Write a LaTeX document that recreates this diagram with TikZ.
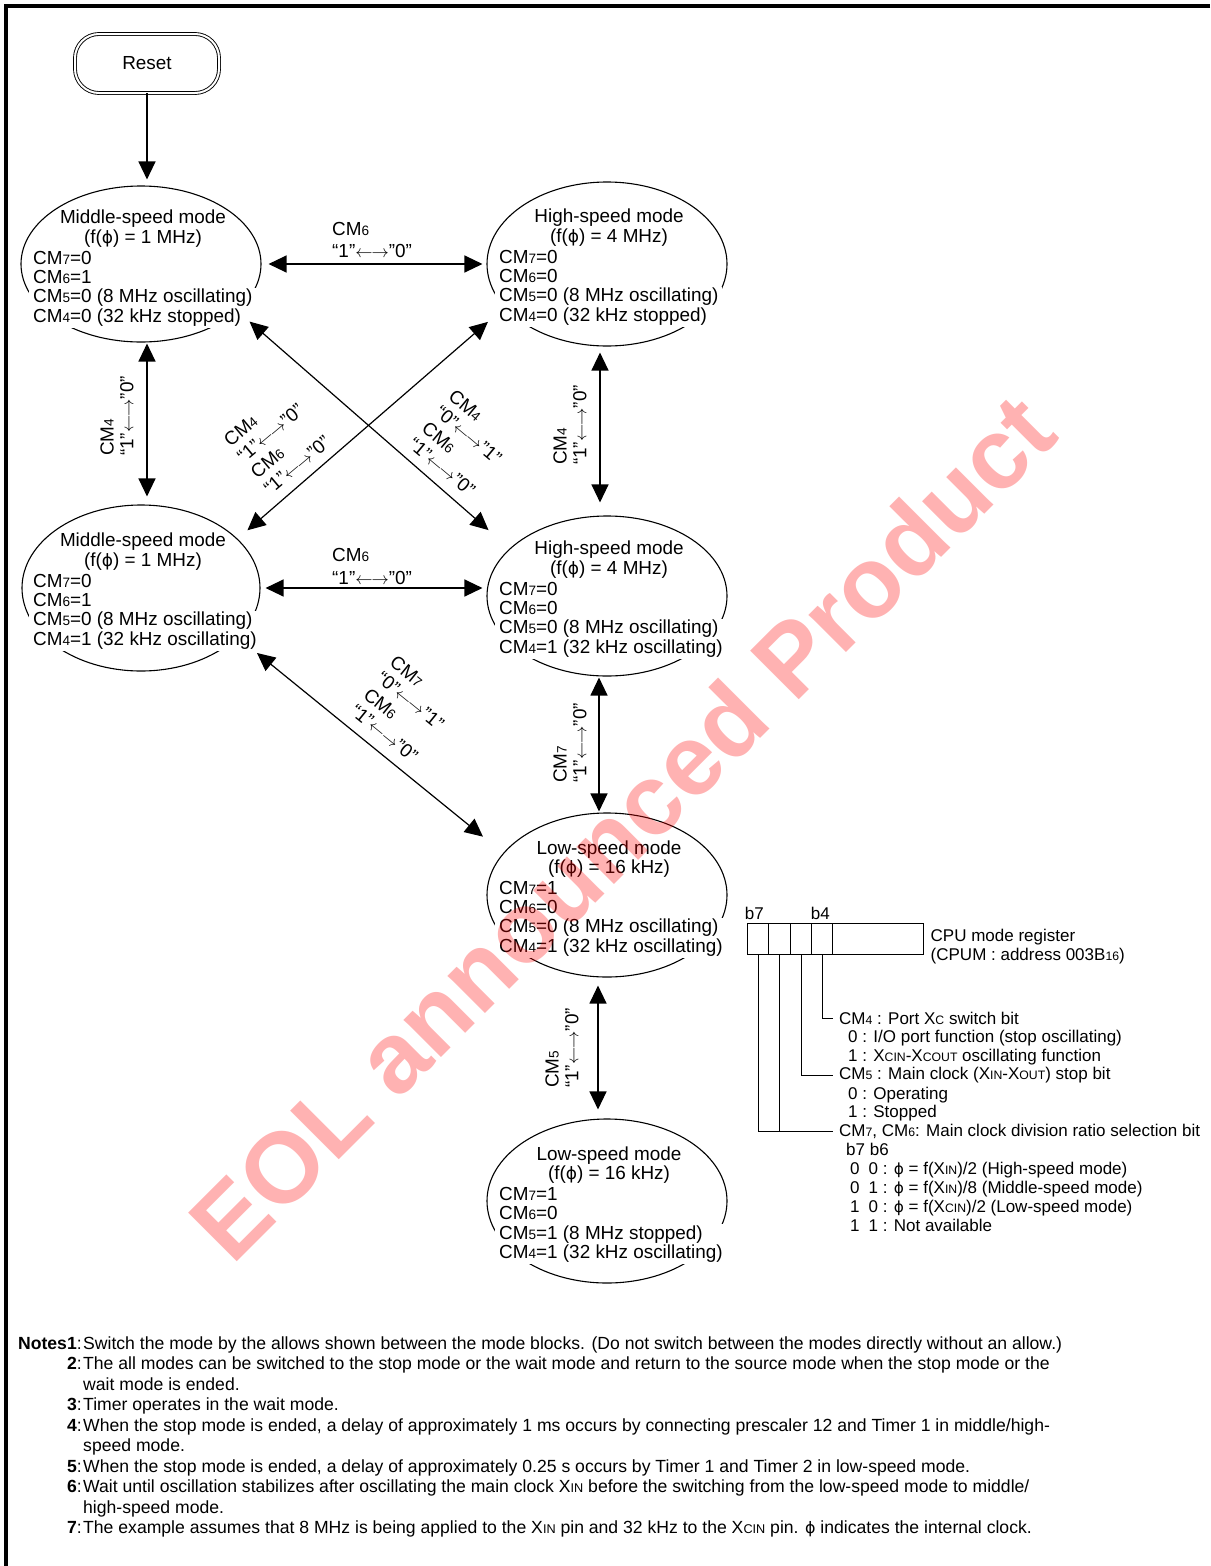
\documentclass[tikz,border=0pt]{standalone}
\usepackage{fontspec}
\setmainfont{Liberation Sans}
\newfontfamily\symfont{DejaVu Sans}
\usepackage{graphicx}
\usetikzlibrary{arrows.meta,positioning,shapes.geometric}
\definecolor{Wmark}{HTML}{FF0000}
\newcommand\lo[1]{\scalebox{0.72}{#1}}
\newcommand\fy{{\symfont\scalebox{0.9}{ϕ}}}
\newcommand\sw[2]{“#1”$\leftarrow\mkern-1mu\rightarrow$”#2”}
\newcommand\modefont{\fontsize{18.9}{19.8}\selectfont}
\newcommand\regfont{\fontsize{17}{18.8}\selectfont}
\newcommand\notefont{\fontsize{17.6}{20.5}\selectfont}

\begin{document}
\begin{tikzpicture}[x=1pt,y=-1pt,font=\modefont,
mode/.style={draw,ellipse,line width=1.1pt,minimum width=240pt,minimum height=164pt,inner sep=0pt},
modetxt/.style={inner sep=0pt,align=left},
lowtxt/.style={modetxt,fill=white,inner xsep=4pt,inner ysep=1.5pt},
swlbl/.style={inner sep=1pt,align=left},
dbl/.style={{Triangle[length=18pt,width=17pt]}-{Triangle[length=18pt,width=17pt]},line width=1.2pt},
cell/.style={draw,line width=1pt,minimum width=21.5pt,minimum height=31pt,inner sep=0pt},
regtxt/.style={font=\regfont,inner sep=0pt,align=left},
lead/.style={line width=1pt}]
\useasboundingbox (0,0) rectangle (1210,1566);
\draw[line width=4pt] (1210,5.5) -- (6,5.5) -- (6,1566);

% reset and the six mode blocks
\node[draw,double,double distance=2pt,line width=0.9pt,rounded corners=24pt,minimum width=144pt,minimum height=59pt] (rst) at (147,63.5) {Reset};
\node[mode,minimum width=240pt,minimum height=156pt] (e1) at (141,264) {};
\node[mode] (e2) at (607,264) {};
\node[mode,minimum width=238pt,minimum height=166pt] (e3) at (141,588) {};
\node[mode,minimum height=160pt] (e4) at (607,596) {};
\node[mode] (e5) at (607,895) {};
\node[mode] (e6) at (607,1201) {};
\foreach \nm/\kind/\fq/\va/\vb/\vc/\vd/\dy in {
  e1/Middle/1 MHz/0/1/{0 (8 MHz oscillating)}/{0 (32 kHz stopped)}/1,
  e2/High/4 MHz/0/0/{0 (8 MHz oscillating)}/{0 (32 kHz stopped)}/0,
  e3/Middle/1 MHz/0/1/{0 (8 MHz oscillating)}/{1 (32 kHz oscillating)}/0,
  e4/High/4 MHz/0/0/{0 (8 MHz oscillating)}/{1 (32 kHz oscillating)}/0,
  e5/Low/16 kHz/1/0/{0 (8 MHz oscillating)}/{1 (32 kHz oscillating)}/0,
  e6/Low/16 kHz/1/0/{1 (8 MHz stopped)}/{1 (32 kHz oscillating)}/0}{
  \node[modetxt,align=center] (\nm-t) at ([xshift=2pt,yshift=36pt-\dy pt]\nm.center) {\kind-speed mode\\(f(\fy) = \fq)};
  \node[modetxt,anchor=west] (\nm-u) at ([xshift=-108pt,yshift=-2.5pt-\dy pt]\nm.center) {CM\lo{7}=\va\\CM\lo{6}=\vb};
  \node[lowtxt,anchor=west] (\nm-l) at ([xshift=-112pt,yshift=-43pt-\dy pt]\nm.center) {CM\lo{5}=\vc\\CM\lo{4}=\vd};
}

% transitions
\draw[-{Triangle[length=18pt,width=17pt]},line width=1.2pt,shorten >=6pt] (rst) -- (rst |- e1.north);
\draw[dbl,shorten <=1pt,shorten >=8pt] (rst |- e1.south) -- (rst |- e3.north);
\draw[dbl,shorten <=7pt,shorten >=4pt] (e1.east) -- (e1.east -| e2.west);
\draw[dbl,shorten <=6pt,shorten >=13pt] ([xshift=-7pt]e2.south) -- ([xshift=-7pt]e4.north);
\draw[dbl,shorten <=5pt,shorten >=4pt] (e3.east) -- (e3.east -| e4.west);
\draw[dbl,shorten <=1pt,shorten >=1pt] ([xshift=-8pt]e4.south) -- ([xshift=-8pt]e5.north);
\draw[dbl,shorten <=8pt,shorten >=9pt] ([xshift=-9pt]e5.south) -- ([xshift=-9pt]e6.north);
\draw[dbl,shorten <=16pt,shorten >=28pt] (e1.-26) -- (e4.154);
\draw[dbl,shorten <=13pt,shorten >=22pt] (e3.27) -- (e2.203);
\draw[dbl,shorten <=25pt,shorten >=26pt] (e3.-27) -- (e5.158);

% switch labels
\node[swlbl,anchor=west] (l12) at (331,240) {CM\lo{6}\\[3pt]\sw10};
\node[swlbl,anchor=west] (l34) at (331,566.5) {CM\lo{6}\\[3pt]\sw10};
\node[swlbl,rotate=90] (l13) at (117,416) {CM\lo{4}\\\sw10};
\node[swlbl,rotate=90] (l24) at (570,425) {CM\lo{4}\\\sw10};
\node[swlbl,rotate=90] (l45) at (570,743) {CM\lo{7}\\\sw10};
\node[swlbl,rotate=90] (l56) at (562,1048) {CM\lo{5}\\\sw10};
\node[swlbl,rotate=40] (l32) at (277,441) {CM\lo{4}\\[1pt]\sw10\\[1pt]CM\lo{6}\\[1pt]\sw10};
\node[swlbl,rotate=-40] (l14) at (462,443) {CM\lo{4}\\[1pt]\sw01\\[1pt]CM\lo{6}\\[1pt]\sw10};
\node[swlbl,rotate=-39] (l35) at (404,709) {CM\lo{7}\\[1pt]\sw01\\[1pt]CM\lo{6}\\[1pt]\sw10};

% CPU mode register
\foreach \nm/\xx in {c7/758,c6/779.5,c5/801,c4/822}{\node[cell] (\nm) at (\xx,938.5) {};}
\node[cell,minimum width=91pt] (crest) at (877.5,938.5) {};
\node[regtxt,anchor=south west] (b7) at ([xshift=-2pt,yshift=3pt]c7.north west) {b7};
\node[regtxt,anchor=south west] (b4) at ([yshift=3pt]c4.north west) {b4};
\node[regtxt,anchor=west] (cpum) at ([xshift=7pt,yshift=-8pt]crest.east) {CPU mode register\\(CPUM : address 003B\lo{16})};
\node[regtxt,anchor=west,inner xsep=6pt] (h4) at (833,1018) {CM\lo{4} : Port X\lo{C} switch bit};
\node[regtxt,below right=5.5pt and 15pt of h4.south west] (h4s) {0 : I/O port function (stop oscillating)\\1 : X\lo{CIN}-X\lo{COUT} oscillating function};
\node[regtxt,anchor=west,inner xsep=6pt] (h5) at (833,1075) {CM\lo{5} : Main clock (X\lo{IN}-X\lo{OUT}) stop bit};
\node[regtxt,below right=3.5pt and 15pt of h5.south west] (h5s) {0 : Operating\\1 : Stopped};
\node[regtxt,anchor=west,inner xsep=6pt] (h76) at (833,1131) {CM\lo{7}, CM\lo{6}: Main clock division ratio selection bit};
\node[regtxt,below right=5pt and 13pt of h76.south west] (h76s) {b7 b6\\
\hspace{4pt}0\hspace{9pt}0 : \fy{} = f(X\lo{IN})/2 (High-speed mode)\\
\hspace{4pt}0\hspace{9pt}1 : \fy{} = f(X\lo{IN})/8 (Middle-speed mode)\\
\hspace{4pt}1\hspace{9pt}0 : \fy{} = f(X\lo{CIN})/2 (Low-speed mode)\\
\hspace{4pt}1\hspace{9pt}1 : Not available};
\draw[lead] (c4.south) |- (h4.west);
\draw[lead] (c5.south) |- (h5.west);
\draw[lead] (c7.south) |- (h76.west);
\draw[lead] (c6.south) |- (h76.west);

% notes
\node[anchor=north west,inner sep=0pt,align=left,font=\notefont] (notes) at (83,1336.5) {%
\llap{\textbf{Notes1}:\hspace{1.5pt}}Switch the mode by the allows shown between the mode blocks. (Do not switch between the modes directly without an allow.)\\
\llap{\textbf{2}:\hspace{1.5pt}}The all modes can be switched to the stop mode or the wait mode and return to the source mode when the stop mode or the\\
wait mode is ended.\\
\llap{\textbf{3}:\hspace{1.5pt}}Timer operates in the wait mode.\\
\llap{\textbf{4}:\hspace{1.5pt}}When the stop mode is ended, a delay of approximately 1 ms occurs by connecting prescaler 12 and Timer 1 in middle/high-\\
speed mode.\\
\llap{\textbf{5}:\hspace{1.5pt}}When the stop mode is ended, a delay of approximately 0.25 s occurs by Timer 1 and Timer 2 in low-speed mode.\\
\llap{\textbf{6}:\hspace{1.5pt}}Wait until oscillation stabilizes after oscillating the main clock X\lo{IN} before the switching from the low-speed mode to middle/\\
high-speed mode.\\
\llap{\textbf{7}:\hspace{1.5pt}}The example assumes that 8 MHz is being applied to the X\lo{IN} pin and 32 kHz to the X\lo{CIN} pin. \fy{} indicates the internal clock.};

% watermark
\node[rotate=45,anchor=base,text=Wmark,opacity=0.3,inner sep=0pt,font=\bfseries\fontsize{100}{100}\selectfont] (wm) at (647,852) {EOL announced Product};
\end{tikzpicture}
\end{document}
